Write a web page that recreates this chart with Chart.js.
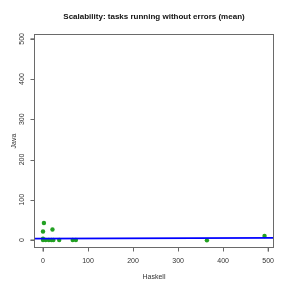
<!DOCTYPE html>
<html><head><meta charset="utf-8">
<script src="https://cdn.jsdelivr.net/npm/chart.js@4/dist/chart.umd.min.js"></script>
<style>html,body{margin:0;padding:0;background:#fff}#wrap{width:291px;height:291px}</style>
</head><body><div id="wrap"><canvas id="c" width="291" height="291"></canvas></div>
<script>
// data
const haskell=[2,0,21,0,0,6,13,19,23,36,66,73,364,492];
const java=[42,21,26,3,0,0,0,0,0,0,0,0,-1,10];
const fitX=[-20,513];
const fitY=[3.5,5];
const xTicks=[0,100,200,300,400,500];
const yTicks=[0,100,200,300,400,500];
const title='Scalability: tasks running without errors (mean)';

// R-style box, ticks, labels drawn from the chart's scales
const rAxes={id:'rAxes',afterDraw(ch){
  const c=ch.ctx,a=ch.chartArea,sx=ch.scales.x,sy=ch.scales.y;
  c.save();
  c.strokeStyle='#6a6a6a';c.lineWidth=1;
  c.strokeRect(a.left+.5,a.top+.5,a.right-a.left-1,a.bottom-a.top-1);
  c.fillStyle='#333';c.font='7px "Liberation Sans",Arial,sans-serif';
  // x axis
  const bx=a.bottom-.5;
  c.beginPath();
  c.moveTo(sx.getPixelForValue(xTicks[0]),bx+4);c.lineTo(sx.getPixelForValue(xTicks[0]),bx);
  c.lineTo(sx.getPixelForValue(xTicks[xTicks.length-1]),bx);c.lineTo(sx.getPixelForValue(xTicks[xTicks.length-1]),bx+4);
  xTicks.forEach(t=>{const p=Math.round(sx.getPixelForValue(t))+.5;c.moveTo(p,bx);c.lineTo(p,bx+4);});
  c.stroke();
  c.textAlign='center';c.textBaseline='middle';
  xTicks.forEach(t=>c.fillText(String(t),sx.getPixelForValue(t),261));
  c.fillText('Haskell',(a.left+a.right)/2,277);
  // y axis
  const lx=a.left+.5;
  c.beginPath();
  c.moveTo(lx-4,sy.getPixelForValue(yTicks[0]));c.lineTo(lx,sy.getPixelForValue(yTicks[0]));
  c.lineTo(lx,sy.getPixelForValue(yTicks[yTicks.length-1]));c.lineTo(lx-4,sy.getPixelForValue(yTicks[yTicks.length-1]));
  yTicks.forEach(t=>{const p=Math.round(sy.getPixelForValue(t))+.5;c.moveTo(lx,p);c.lineTo(lx-4,p);});
  c.stroke();
  yTicks.forEach(t=>{c.save();c.translate(22,sy.getPixelForValue(t));c.rotate(-Math.PI/2);c.fillText(String(t),0,0);c.restore();});
  c.save();c.translate(14,(a.top+a.bottom)/2);c.rotate(-Math.PI/2);c.fillText('Java',0,0);c.restore();
  // title
  c.fillStyle='#111';c.font='bold 8px "Liberation Sans",Arial,sans-serif';
  c.fillText(title,(a.left+a.right)/2,17);
  c.restore();
}};

new Chart(document.getElementById('c').getContext('2d'),{
  type:'scatter',
  data:{datasets:[
    {type:'scatter',data:haskell.map((x,i)=>({x,y:java[i]})),backgroundColor:'#22a022',borderColor:'#22a022',pointRadius:2.2,pointBorderWidth:0,order:2},
    {type:'line',data:fitX.map((x,i)=>({x,y:fitY[i]})),borderColor:'#0000ff',borderWidth:1.8,pointRadius:0,fill:false,order:1}
  ]},
  options:{responsive:false,animation:false,
    layout:{padding:{left:34,right:17,top:34,bottom:43}},
    plugins:{legend:{display:false},tooltip:{enabled:false}},
    scales:{x:{type:'linear',min:-20,max:513,display:false},
            y:{type:'linear',min:-20,max:512,display:false}}},
  plugins:[rAxes]
});
</script></body></html>
